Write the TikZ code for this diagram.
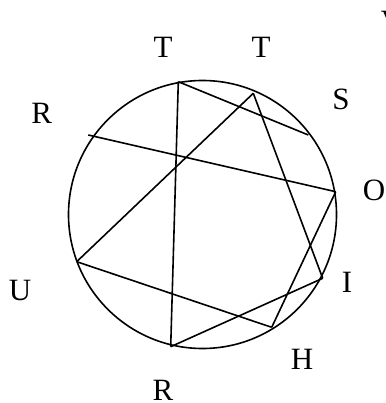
\documentclass[tikz,border=0pt]{standalone}
\usepackage{fontspec}
\setmainfont{Liberation Serif}
\begin{document}
\begin{tikzpicture}[x=1pt,y=-1pt,line width=1.6pt]
  \tikzset{letter/.style={font=\fontsize{31}{31}\selectfont, inner sep=0pt}}
  \useasboundingbox (0,0) rectangle (385,403);
  \draw (202.5,214.5) circle (134pt);
  % points on the ring
  \coordinate (pT1) at (178.3,81.7);
  \coordinate (pT2) at (253.3,93.3);
  \coordinate (pS) at (308.3,135);
  \coordinate (pR1) at (88.3,135);
  \coordinate (pO) at (335.7,191.7);
  \coordinate (pI) at (322.7,278.3);
  \coordinate (pH) at (271.7,327.3);
  \coordinate (pR2) at (170.7,346.7);
  \coordinate (pU) at (76.7,261.7);
  % chords
  \draw (pT1) -- (pR2);
  \draw (pT1) -- (pS);
  \draw (pT2) -- (pU);
  \draw (pT2) -- (pI);
  \draw (pR1) -- (pO);
  \draw (pO) -- (pH);
  \draw (pU) -- (pH);
  \draw (pR2) -- (pI);
  % letters
  \node[letter] (lT1) at (163,47) {T};
  \node[letter] (lT2) at (261,47) {T};
  \node[letter, anchor=west] (lV) at (380,22) {V};
  \node[letter] (lR1) at (41.7,113) {R};
  \node[letter] (lS) at (341,99) {S};
  \node[letter, anchor=west] (lO) at (362,190) {O};
  \node[letter] (lU) at (20,290) {U};
  \node[letter] (lI) at (347,282) {I};
  \node[letter] (lH) at (302,359) {H};
  \node[letter] (lR2) at (163,390) {R};
\end{tikzpicture}
\end{document}
